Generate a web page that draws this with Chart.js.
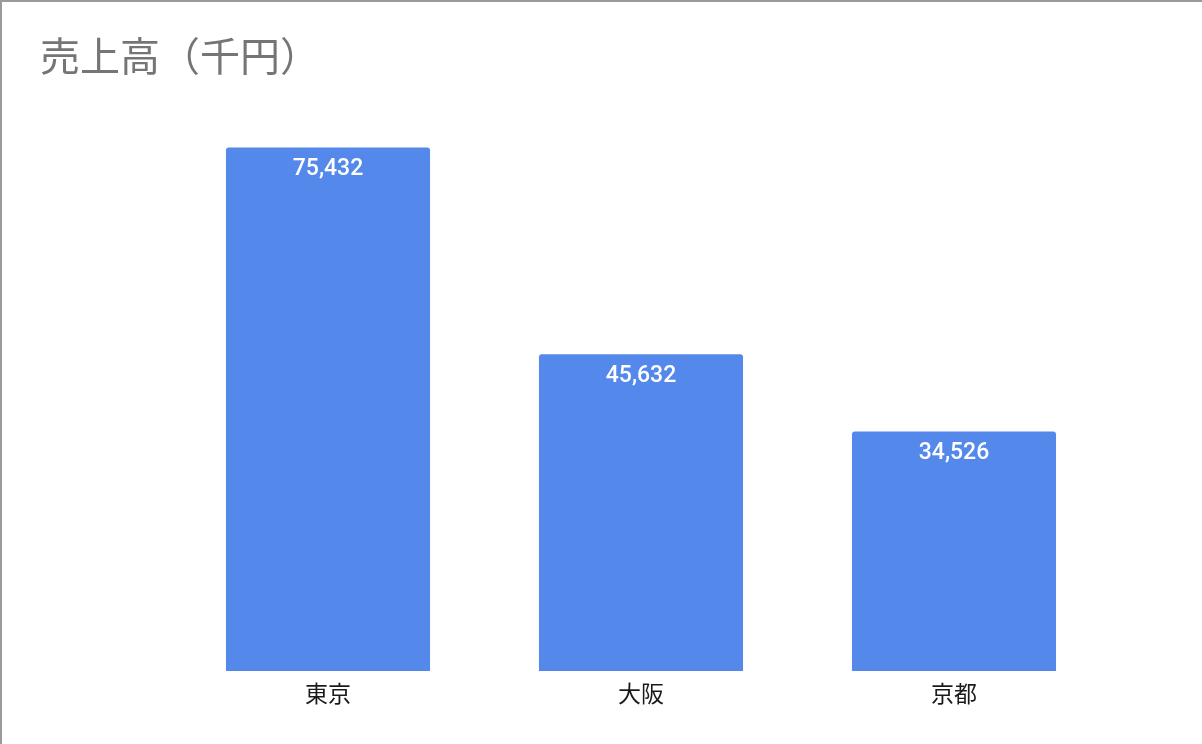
<!DOCTYPE html>
<html lang="ja">
<head>
<meta charset="utf-8">
<script src="https://cdn.jsdelivr.net/npm/chart.js@4"></script>
<style>
    html, body { margin: 0; padding: 0; background: #fff; }
    #wrap { position: relative; width: 1202px; height: 744px; }
    #wrap canvas { position: absolute; left: 0; top: 0; }
    #frame {
        position: absolute; left: 0; top: 0; width: 1202px; height: 744px;
        box-sizing: border-box;
        border-top: 2px solid #9a9a9a;
        border-left: 2px solid #9a9a9a;
        pointer-events: none;
    }
</style>
</head>
<body>
<div id="wrap"><canvas id="myChart" width="1202" height="744"></canvas><div id="frame"></div></div>
<script>
//============================
//  データ
//============================
const categories = ["東京", "大阪", "京都"];
const salesValues = [75432, 45632, 34526];
const chartTitle = "売上高（千円）";

const fontFamily = "Roboto, 'Noto Sans CJK JP', sans-serif";
const cjkFamily = "'Noto Sans CJK JP', sans-serif";

// 棒の中に数値を表示する
const barValueLabels = {
    id: "barValueLabels",
    afterDatasetsDraw(chart) {
        const ctx = chart.ctx;
        const meta = chart.getDatasetMeta(0);
        ctx.save();
        ctx.fillStyle = "#ffffff";
        ctx.font = "500 23px " + fontFamily;
        ctx.textAlign = "center";
        ctx.textBaseline = "middle";
        meta.data.forEach((bar, i) => {
            const value = chart.data.datasets[0].data[i];
            ctx.fillText(value.toLocaleString("en-US"), bar.x, bar.y + 22);
        });
        ctx.restore();
    }
};

function salesChartInit() {
    const ctx = document.getElementById("myChart").getContext("2d");

    new Chart(ctx, {
        type: "bar",
        data: {
            labels: categories,
            datasets: [{
                label: chartTitle,
                data: salesValues,
                backgroundColor: "#5588EB",
                borderRadius: { topLeft: 3, topRight: 3, bottomLeft: 0, bottomRight: 0 },
                borderSkipped: "start",
                barPercentage: 0.652,
                categoryPercentage: 1.0
            }]
        },
        options: {
            responsive: false,
            animation: false,
            layout: {
                padding: { left: 40, right: 91.5, top: 0, bottom: 29.4 }
            },
            plugins: {
                legend: { display: false },
                tooltip: { enabled: false },
                title: {
                    display: true,
                    text: chartTitle,
                    align: "start",
                    color: "#757575",
                    font: { family: cjkFamily, size: 40, weight: "normal", lineHeight: 1.2 },
                    padding: { top: 32, bottom: 35.8 }
                }
            },
            scales: {
                x: {
                    grid: { display: false, drawTicks: false },
                    border: { display: false },
                    ticks: {
                        color: "#1a1a1a",
                        padding: 8,
                        font: { family: cjkFamily, size: 23, lineHeight: 1.2 }
                    }
                },
                y: {
                    min: 0,
                    max: 80000,
                    grid: { display: false, drawTicks: false },
                    border: { display: false },
                    ticks: { display: false },
                    afterFit(scale) {
                        scale.width = 131.5;
                    }
                }
            }
        },
        plugins: [barValueLabels]
    });
}

salesChartInit();
</script>
</body>
</html>
